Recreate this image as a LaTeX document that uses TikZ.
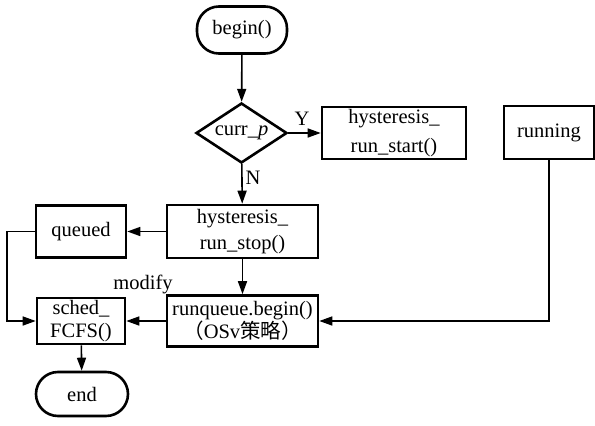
\documentclass[tikz,border=0pt]{standalone}
\usepackage{fontspec}
\setmainfont{Liberation Serif}
\newfontfamily\cjk{Noto Sans CJK SC}
\usetikzlibrary{arrows.meta,shapes.geometric}
\begin{document}
\begin{tikzpicture}[x=1pt,y=-1pt,
  font=\fontsize{20.5}{26}\selectfont,
  box/.style={draw,line width=2.6pt,align=center,inner sep=0pt},
  term/.style={box,rounded corners=22pt},
  link/.style={line width=1.6pt,-{Triangle[length=13pt,width=9pt]}},
  tag/.style={inner sep=0pt},
  tight/.style={font=\fontsize{20.5}{22.5}\selectfont},
]
\useasboundingbox (0,0) rectangle (595,426);

% terminals
\node[term,minimum width=90pt,minimum height=47pt] (begin) at (242,30) {begin()};
\node[term,minimum width=92pt,minimum height=44pt] (end) at (82,394) {end};

% decision
\node[box,diamond,aspect=1.52,minimum width=91pt,minimum height=60pt] (cond) at (241.5,133) {curr\_\textit{p}};

% process boxes
\node[box,minimum width=144pt,minimum height=52pt,font=\fontsize{20.5}{29}\selectfont] (start) at (394,133) {hysteresis\_\\run\_start()};
\node[box,minimum width=90pt,minimum height=53pt] (running) at (549,132.5) {running};
\node[box,minimum width=151pt,minimum height=53pt] (stop) at (242.5,231.5) {hysteresis\_\\run\_stop()};
\node[box,minimum width=90pt,minimum height=52pt] (queued) at (81,231.5) {queued};
\node[box,tight,minimum width=151pt,minimum height=51pt] (runq) at (242.5,321) {runqueue.begin()\\{\cjk（}OSv{\cjk 策略）}};
\node[box,tight,minimum width=88pt,minimum height=46pt] (sched) at (81,321) {sched\_\\FCFS()};

% connectors
\draw[link] (begin) -- (cond);
\draw[link] (cond) -- (start);
\draw[link] (cond) -- (stop);
\draw[link] (stop) -- (queued);
\draw[link] (queued.west) -- ++(-28,0) |- (sched.west);
\draw[link] (stop) -- (runq);
\draw[link] (runq) -- (sched);
\draw[link] (running.south) |- (runq.east);
\draw[link] (sched) -- (end);

% labels
\node[tag] (ylab) at (302,119) {Y};
\node[tag] (nlab) at (253,178) {N};
\node[tag] (mod) at (143,284) {modify};
\end{tikzpicture}
\end{document}
